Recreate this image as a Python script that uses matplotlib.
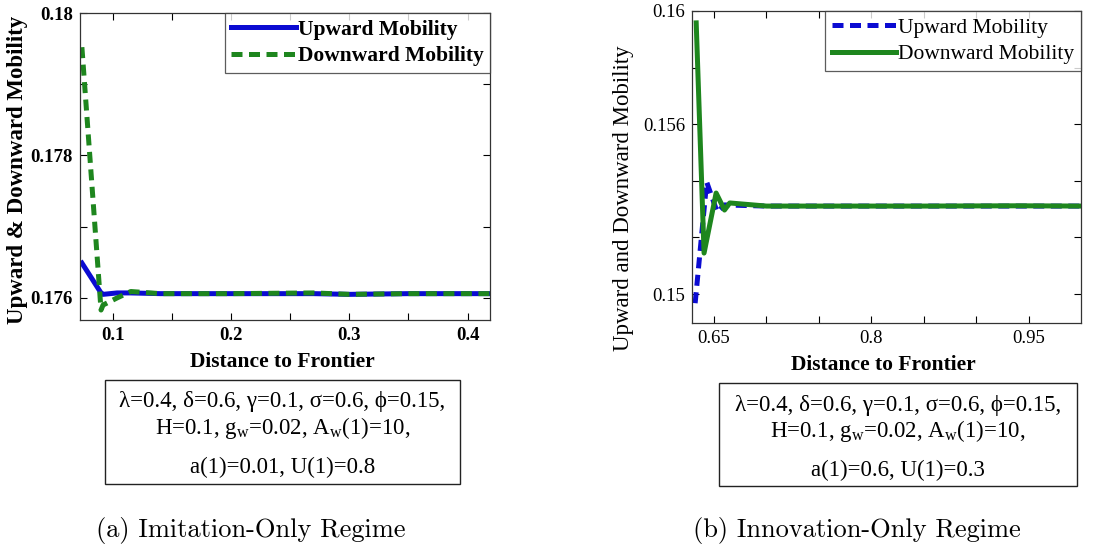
import matplotlib
matplotlib.use('Agg')
import matplotlib.pyplot as plt
from matplotlib.patches import Rectangle

plt.rcParams['font.family'] = ['Liberation Serif', 'DejaVu Serif']
plt.rcParams['mathtext.fontset'] = 'custom'
plt.rcParams['mathtext.rm'] = 'Liberation Serif'

BLUE = '#0b0bd2'
GREEN = '#1e861e'

# imitation-only regime
imit_x = [0.0736, 0.0898, 0.0915, 0.1034, 0.115, 0.14, 0.2, 0.27, 0.3, 0.35, 0.42]
imit_up = [0.17649, 0.17607, 0.17605, 0.17607, 0.17607, 0.17606, 0.17606, 0.17606, 0.17605, 0.17606, 0.17606]
imit_down = [0.17952, 0.17583, 0.17590, 0.17600, 0.17609, 0.17606, 0.17606, 0.17607, 0.17605, 0.17606, 0.17606]

# innovation-only regime
innov_up_x = [0.632, 0.643, 0.653, 0.660, 0.70, 0.85, 1.0]
innov_up = [0.14968, 0.15396, 0.15290, 0.15315, 0.15311, 0.15311, 0.15311]
innov_down_x = [0.633, 0.6405, 0.652, 0.660, 0.665, 0.70, 0.85, 0.94, 1.0]
innov_down = [0.15958, 0.15145, 0.15357, 0.15297, 0.15322, 0.15311, 0.15311, 0.15312, 0.15311]

params_common = ["λ=0.4, δ=0.6, γ=0.1, σ=0.6, ϕ=0.15,",
                 r"H=0.1, g$_\mathregular{w}$=0.02, A$_\mathregular{w}$(1)=10,"]
params_a = "a(1)=0.01, U(1)=0.8"
params_b = "a(1)=0.6, U(1)=0.3"

W, H = 1100, 546
fig = plt.figure(figsize=(11, 5.46), dpi=100)


def box(x0, y0, x1, y1):
    return [x0 / W, 1 - y1 / H, (x1 - x0) / W, (y1 - y0) / H]


def style_axes(ax, weight):
    ax.tick_params(direction='in', top=True, right=True, length=5, width=0.8,
                   labelsize=13.5, pad=5)
    for lab in ax.get_xticklabels() + ax.get_yticklabels():
        lab.set_fontweight(weight)
    for s in ax.spines.values():
        s.set_linewidth(0.9)
        s.set_color('#333333')


def style_legend(leg):
    leg.get_frame().set_edgecolor('#333333')
    leg.get_frame().set_linewidth(0.9)


# (a)
ax1 = fig.add_axes(box(80, 13, 490, 320))
ax1.plot(imit_x, imit_up, color=BLUE, lw=3.6, label='Upward Mobility')
ax1.plot(imit_x, imit_down, color=GREEN, lw=3.6, ls=(0, (2.2, 1.3)), label='Downward Mobility')
ax1.set_xlim(0.072, 0.419)
ax1.set_ylim(0.17569, 0.18)
ax1.set_xticks([0.1, 0.15, 0.2, 0.25, 0.3, 0.35, 0.4])
ax1.set_xticklabels(['0.1', '', '0.2', '', '0.3', '', '0.4'])
ax1.set_yticks([0.176, 0.177, 0.178, 0.179, 0.18])
ax1.set_yticklabels(['0.176', '', '0.178', '', '0.18'])
style_axes(ax1, 'bold')
leg1 = ax1.legend(loc='upper right', frameon=True, fancybox=False, borderaxespad=0,
                  handlelength=3.0, handletextpad=0.1, borderpad=0.3, labelspacing=0.3,
                  prop={'weight': 'bold', 'size': 15.5})
style_legend(leg1)

fig.text(18 / W, 1 - 170 / H, 'Upward & Downward Mobility', rotation=90, ha='center',
         va='center', fontsize=16.5, fontweight='bold')
fig.text(282 / W, 1 - 362 / H, 'Distance to Frontier', ha='center', va='center',
         fontsize=15.5, fontweight='bold')

# (b)
ax2 = fig.add_axes(box(692, 11, 1081, 323))
ax2.plot(innov_up_x, innov_up, color=BLUE, lw=3.6, ls=(0, (2.2, 1.3)), label='Upward Mobility')
ax2.plot(innov_down_x, innov_down, color=GREEN, lw=3.6, label='Downward Mobility')
ax2.set_xlim(0.629, 1.0)
ax2.set_ylim(0.14898, 0.16)
ax2.set_xticks([0.65, 0.7, 0.75, 0.8, 0.85, 0.9, 0.95])
ax2.set_xticklabels(['0.65', '', '', '0.8', '', '', '0.95'])
ax2.set_yticks([0.15, 0.152, 0.154, 0.156, 0.158, 0.16])
ax2.set_yticklabels(['0.15', '', '', '0.156', '', '0.16'])
style_axes(ax2, 'normal')
leg2 = ax2.legend(loc='upper right', frameon=True, fancybox=False, borderaxespad=0,
                  handlelength=3.0, handletextpad=0.1, borderpad=0.3, labelspacing=0.3,
                  prop={'size': 15.5})
style_legend(leg2)

fig.text(623 / W, 1 - 198 / H, 'Upward and Downward Mobility', rotation=90, ha='center',
         va='center', fontsize=16.5)
fig.text(883 / W, 1 - 365 / H, 'Distance to Frontier', ha='center', va='center',
         fontsize=15.5, fontweight='bold')

# parameter boxes
for (x0, y0, x1, y1), last in [((105, 380, 460, 484), params_a),
                               ((719, 383, 1077, 486), params_b)]:
    fig.patches.append(Rectangle((x0 / W, 1 - y1 / H), (x1 - x0) / W, (y1 - y0) / H,
                                 transform=fig.transFigure, fill=False,
                                 edgecolor='#222222', lw=1.0))
    cx = (x0 + x1) / 2 / W
    fig.text(cx, 1 - (y0 + 22) / H, params_common[0], ha='center', va='center', fontsize=16.5)
    fig.text(cx, 1 - (y0 + 48) / H, params_common[1], ha='center', va='center', fontsize=16.5)
    fig.text(cx, 1 - (y0 + 87) / H, last, ha='center', va='center', fontsize=16.5)

cap = ['cmr10', 'DejaVu Serif']
fig.text(251 / W, 1 - 530 / H, '(a) Imitation-Only Regime', ha='center', va='center',
         fontsize=19, family=cap)
fig.text(857 / W, 1 - 530 / H, '(b) Innovation-Only Regime', ha='center', va='center',
         fontsize=19, family=cap)

fig.savefig('out.png', dpi=100)
